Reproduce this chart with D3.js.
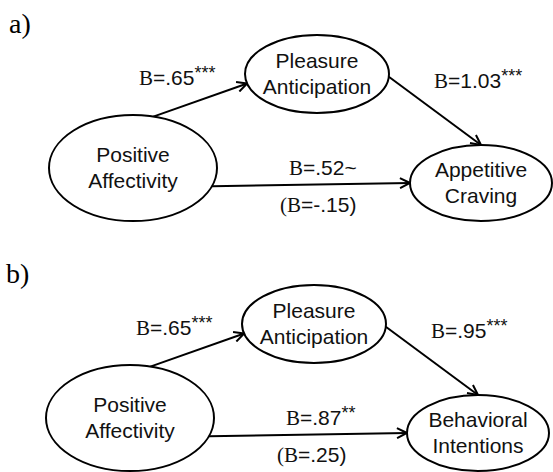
<!DOCTYPE html>
<html>
<head>
<meta charset="utf-8">
<script src="https://cdn.jsdelivr.net/npm/d3@7"></script>
<style>
  body { margin: 0; background: #fff; }
  .sans { font-family: "Liberation Sans", Arial, sans-serif; }
  .serif { font-family: "Liberation Serif", "Times New Roman", serif; }
</style>
</head>
<body>
<div id="chart"></div>
<script>
// panel data
const panels     = ['a)', 'b)'];
const predictor  = ['Positive', 'Affectivity'];
const mediator   = ['Pleasure', 'Anticipation'];
const outcomes   = [['Appetitive', 'Craving'], ['Behavioral', 'Intentions']];
const pathA      = ['.65', '.65'];
const pathASig   = ['***', '***'];
const pathB      = ['1.03', '.95'];
const pathBSig   = ['***', '***'];
const pathC      = ['.52', '.87'];
const pathCSig   = ['~', '**'];
const pathCPrime = ['-.15', '.25'];

const W = 553, H = 472;
const svg = d3.select('#chart').append('svg')
    .attr('width', W).attr('height', H);

svg.append('defs').append('marker')
    .attr('id', 'arr')
    .attr('viewBox', '0 0 12 12')
    .attr('refX', 11).attr('refY', 6)
    .attr('markerWidth', 12).attr('markerHeight', 12)
    .attr('markerUnits', 'userSpaceOnUse')
    .attr('orient', 'auto')
  .append('path')
    .attr('d', 'M1,1 L11,6 L1,11')
    .attr('fill', 'none')
    .attr('stroke', '#000')
    .attr('stroke-width', 2);

// panel vertical placement
const yPanel = d3.scaleBand().domain(panels).range([0, 500]);

// node layout inside a panel
const nodes = {
  pred: {cx: 133, cy: 168, rx: 84, ry: 53},
  med:  {cx: 317, cy: 74,  rx: 72, ry: 39},
  out:  {cx: 481, cy: 183, rx: 71, ry: 38}
};

function onEllipse(n, deg) {
  const a = deg * Math.PI / 180;
  return [n.cx + n.rx * Math.cos(a), n.cy + n.ry * Math.sin(a)];
}

function label(g, x, y, val, sig, paren) {
  const t = g.append('text')
      .attr('class', 'sans')
      .attr('x', x).attr('y', y)
      .attr('font-size', 21)
      .attr('fill', '#111');
  if (paren) t.append('tspan').attr('class', 'serif').text('(');
  t.append('tspan').attr('class', 'serif').text('B');
  t.append('tspan').text('=' + val);
  if (sig === '~') {
    t.append('tspan').text(sig);
  } else if (sig) {
    t.append('tspan').attr('dy', -6).attr('font-size', 18).text(sig);
  }
  if (paren) t.append('tspan').text(')');
}

panels.forEach((p, i) => {
  const g = svg.append('g').attr('transform', `translate(${i ? -3 : 0},${yPanel(p)})`);

  g.append('text')
      .attr('class', 'serif')
      .attr('x', 9).attr('y', 33)
      .attr('font-size', 28)
      .text(p);

  // arrows
  const edges = [
    [onEllipse(nodes.pred, -76), onEllipse(nodes.med, 166)],
    [onEllipse(nodes.med, 4),    onEllipse(nodes.out, -90)],
    [onEllipse(nodes.pred, 20),  onEllipse(nodes.out, 180)]
  ];
  edges.forEach(e => {
    g.append('line')
        .attr('x1', e[0][0]).attr('y1', e[0][1])
        .attr('x2', e[1][0]).attr('y2', e[1][1])
        .attr('stroke', '#000').attr('stroke-width', 2)
        .attr('marker-end', 'url(#arr)');
  });

  // ellipses with text
  const texts = [predictor, mediator, outcomes[i]];
  Object.values(nodes).forEach((n, k) => {
    g.append('ellipse')
        .attr('cx', n.cx).attr('cy', n.cy)
        .attr('rx', n.rx).attr('ry', n.ry)
        .attr('fill', '#fff').attr('stroke', '#000').attr('stroke-width', 2);
    g.append('text')
        .attr('class', 'sans')
        .attr('x', n.cx).attr('y', n.cy)
        .attr('text-anchor', 'middle')
        .attr('font-size', 21)
        .attr('fill', '#111')
        .selectAll('tspan').data(texts[k]).join('tspan')
        .attr('x', n.cx)
        .attr('dy', (d, j) => j === 0 ? -6 : 26)
        .text(d => d);
  });

  label(g, 139, 85, pathA[i], pathASig[i], false);
  label(g, 434, 88, pathB[i], pathBSig[i], false);
  label(g, 289, 175, pathC[i], pathCSig[i], false);
  label(g, 280, 212, pathCPrime[i], null, true);
});
</script>
</body>
</html>
